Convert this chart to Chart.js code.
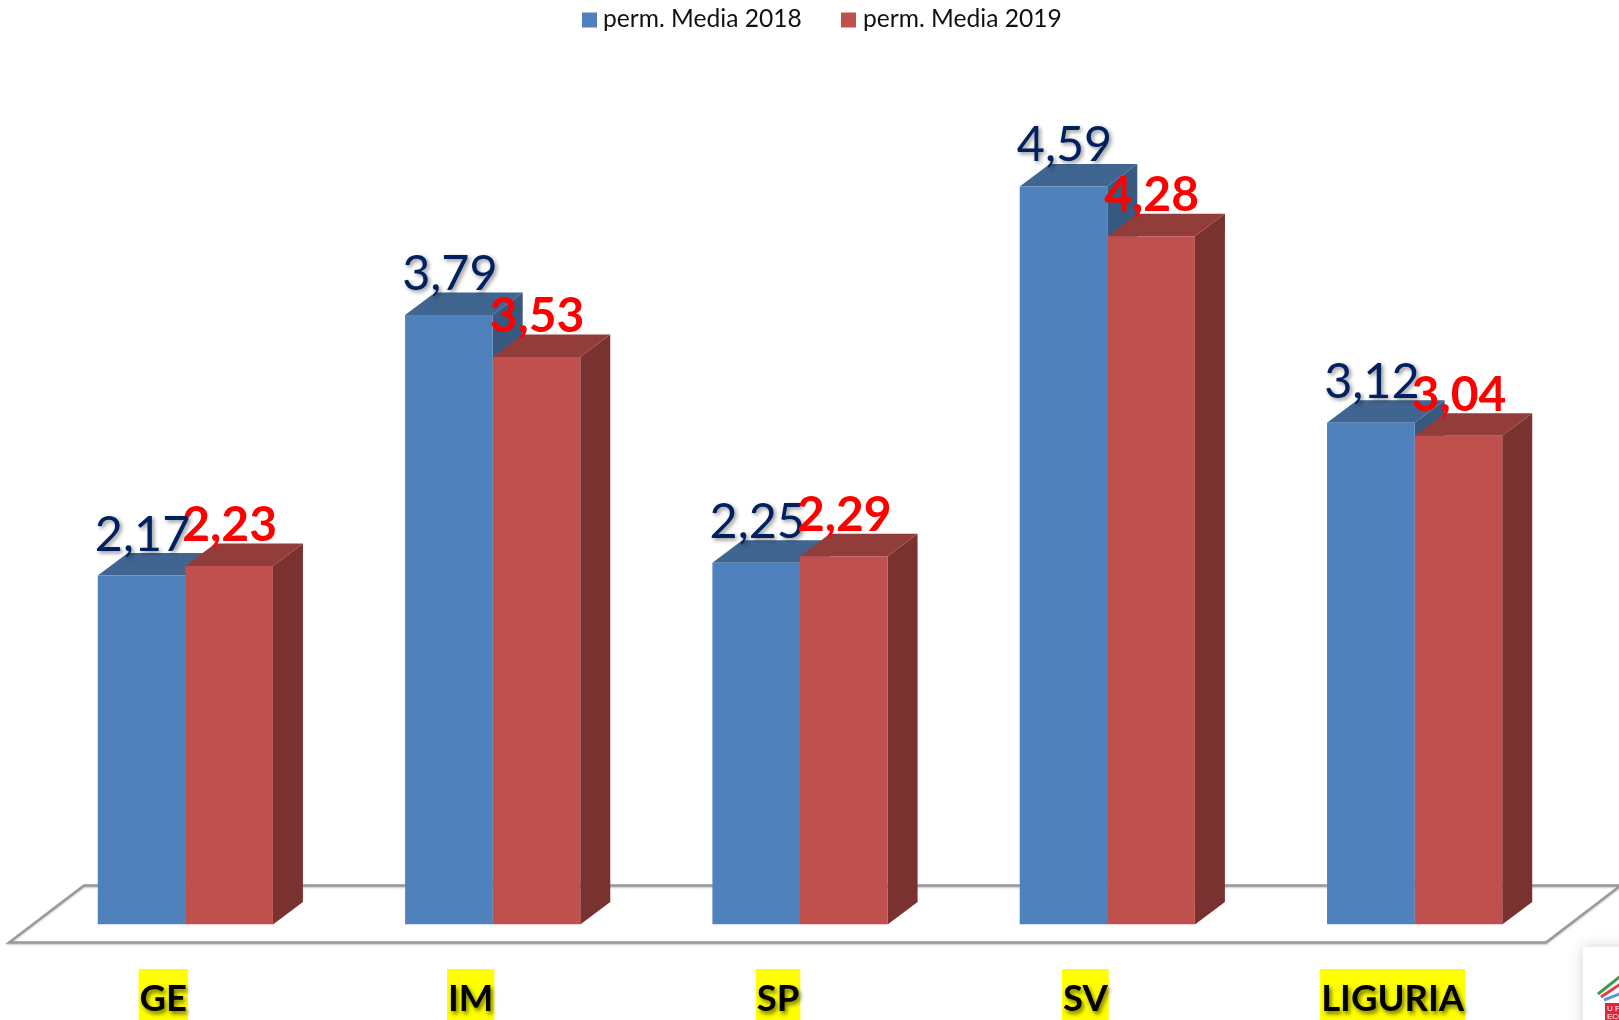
<!DOCTYPE html>
<html><head><meta charset="utf-8">
<style>html,body{margin:0;padding:0;background:#fff;overflow:hidden}#wrap{position:relative;width:1619px;height:1020px}canvas{display:block}</style>
<script src="https://cdn.jsdelivr.net/npm/chart.js@4"></script>
</head><body><div id="wrap"><canvas id="c" width="1619" height="1020"></canvas></div>
<script>
const categories = ['GE','IM','SP','SV','LIGURIA'];
const media2018 = [2.17,3.79,2.25,4.59,3.12];
const media2019 = [2.23,3.53,2.29,4.28,3.04];
const seriesNames = ['perm. Media 2018','perm. Media 2019'];
const frontColors = ['#4F81BD','#C0504D'];
const topColors = ['#3F6590','#933D3A'];
const sideColors = ['#35597F','#7A3230'];
const labelColors = ['#002060','#FF0000'];
const fmt = v => v.toFixed(2).replace('.',',');
const DX = 30, DY = 22.5;

function poly(ctx, pts, fill){
  ctx.beginPath();
  pts.forEach((p,i)=> i?ctx.lineTo(p[0],p[1]):ctx.moveTo(p[0],p[1]));
  ctx.closePath(); ctx.fillStyle = fill; ctx.fill();
}
function seg(ctx, a, b, color){
  ctx.strokeStyle=color; ctx.lineWidth=3; ctx.beginPath(); ctx.moveTo(a[0],a[1]); ctx.lineTo(b[0],b[1]); ctx.stroke();
}
const bars3d = {
  id:'bars3d',
  beforeDraw(chart){
    const ctx = chart.ctx;
    // legend
    ctx.save();
    ctx.font='24.6px Lato'; ctx.textBaseline='alphabetic'; ctx.textAlign='left';
    [[582,603],[841,863]].forEach((p,i)=>{
      ctx.fillStyle=frontColors[i]; ctx.fillRect(p[0],12.5,15,15);
      ctx.fillStyle='#111'; ctx.fillText(seriesNames[i],p[1],27);
    });
    ctx.restore();
    // corner logo
    ctx.save();
    ctx.shadowColor='rgba(0,0,0,.18)'; ctx.shadowBlur=14; ctx.fillStyle='#fff';
    ctx.fillRect(1583,947,60,90);
    ctx.restore();
    ctx.save();
    seg(ctx,[1598,994],[1622,975],'#3E9A4B');
    seg(ctx,[1601,997],[1622,983],'#D9404A');
    seg(ctx,[1604,1000],[1622,993],'#5B9BD5');
    ctx.fillStyle='#E0263C'; ctx.fillRect(1605,1003,14,17);
    ctx.fillStyle='#fff'; ctx.font='8px "Liberation Sans"';
    ctx.fillText('U F',1607,1011); ctx.fillText('ECO',1607,1019);
    ctx.restore();
  },
  beforeDatasetsDraw(chart){
    const ctx = chart.ctx, y0 = chart.scales.y.getPixelForValue(0);
    // floor
    ctx.save();
    ctx.strokeStyle = '#999999'; ctx.lineWidth = 2.4;
    ctx.shadowColor = 'rgba(0,0,0,.25)'; ctx.shadowBlur = 2; ctx.shadowOffsetY = 1;
    ctx.beginPath();
    ctx.moveTo(1640, y0-39); ctx.lineTo(84, y0-39); ctx.lineTo(9, y0+18); ctx.lineTo(1546, y0+18); ctx.lineTo(1622, y0-40);
    ctx.stroke();
    ctx.restore();
    [0,1].forEach(d=>{
      chart.getDatasetMeta(d).data.forEach(b=>{
        const l=b.x-b.width/2, r=b.x+b.width/2, t=b.y, bt=y0;
        poly(ctx,[[r,bt],[r+DX,bt-DY],[r+DX,t-DY],[r,t]],sideColors[d]);
        poly(ctx,[[l,t],[l+DX,t-DY],[r+DX,t-DY],[r,t]],topColors[d]);
      });
    });
  },
  afterDatasetsDraw(chart){
    const ctx = chart.ctx;
    // yellow highlights behind the category labels
    const xs = chart.scales.x;
    ctx.save();
    ctx.font = xs.options.ticks.font.weight+' '+xs.options.ticks.font.size+'px '+xs.options.ticks.font.family;
    ctx.fillStyle = '#FFFF00';
    categories.forEach((c,i)=>{
      const w = ctx.measureText(c).width, cx = xs.getPixelForTick(i)+xs.options.ticks.labelOffset;
      ctx.fillRect(cx-w/2-1, 969, w+2, 51);
    });
    ctx.restore();
    // value labels
    ctx.save();
    ctx.textAlign='center'; ctx.textBaseline='alphabetic';
    [0,1].forEach(d=>{
      const vals = chart.data.datasets[d].data;
      chart.getDatasetMeta(d).data.forEach((b,i)=>{
        ctx.save();
        ctx.font = (d? 'bold 48px':'48.5px')+' Lato';
        ctx.fillStyle = labelColors[d];
        if(!d){ctx.shadowColor='rgba(0,0,0,.45)';ctx.shadowBlur=4;ctx.shadowOffsetX=2;ctx.shadowOffsetY=2;}
        ctx.fillText(fmt(vals[i]), b.x+(d?0.5:1), b.y-(d?25:25));
        ctx.restore();
      });
    });
    ctx.restore();
    // shadow for the tick labels, which are drawn next (ticks.z = 1)
    ctx.shadowColor='rgba(0,0,0,.55)';ctx.shadowBlur=4;ctx.shadowOffsetX=2;ctx.shadowOffsetY=3;
  },
  afterDraw(chart){
    const ctx = chart.ctx;
    ctx.shadowColor='transparent';ctx.shadowBlur=0;ctx.shadowOffsetX=0;ctx.shadowOffsetY=0;
  }
};
new Chart(document.getElementById('c'),{
  type:'bar',
  data:{labels:categories,datasets:[
    {label:seriesNames[0],data:media2018,backgroundColor:frontColors[0]},
    {label:seriesNames[1],data:media2019,backgroundColor:frontColors[1]}
  ]},
  plugins:[bars3d],
  options:{
    responsive:false,animation:false,
    layout:{padding:{left:31.7,right:50.7,top:120.5,bottom:0}},
    datasets:{bar:{barPercentage:1,categoryPercentage:0.57,borderWidth:0}},
    plugins:{tooltip:{enabled:false},legend:{display:false}},
    scales:{
      x:{grid:{display:false},border:{display:false},
        afterFit(s){s.height=95.5;},
        ticks:{z:1,padding:44.5,labelOffset:-22,maxRotation:0,autoSkip:false,color:'#000',font:{family:'Lato',size:36.5,weight:'bold'}}},
      y:{display:false,min:0,max:5}
    }
  }
});
</script></body></html>
